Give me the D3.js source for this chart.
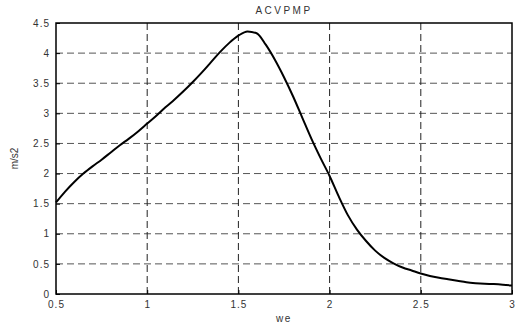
<!DOCTYPE html>
<html>
<head>
<meta charset="utf-8">
<script src="https://cdn.jsdelivr.net/npm/d3@7"></script>
<style>
  body { margin: 0; background: #fff; }
  text { font-family: Arial, "Liberation Sans", sans-serif; }
</style>
</head>
<body>
<div id="chart"></div>
<script>
// data
var weValues = [0.50, 0.55, 0.60, 0.65, 0.70, 0.75, 0.80, 0.85, 0.90, 0.95,
    1.00, 1.05, 1.10, 1.15, 1.20, 1.25, 1.30, 1.35, 1.40, 1.45,
    1.50, 1.55, 1.60, 1.65, 1.70, 1.75, 1.80, 1.85, 1.90, 1.95,
    2.00, 2.05, 2.10, 2.15, 2.20, 2.25, 2.30, 2.35, 2.40, 2.45,
    2.50, 2.55, 2.60, 2.65, 2.70, 2.75, 2.80, 2.85, 2.90, 2.95, 3.00];
var accValues = [1.52, 1.70, 1.86, 2.00, 2.12, 2.23, 2.35, 2.47, 2.58, 2.70,
    2.83, 2.96, 3.10, 3.23, 3.37, 3.52, 3.68, 3.85, 4.02, 4.17,
    4.29, 4.36, 4.33, 4.14, 3.89, 3.60, 3.28, 2.93, 2.58, 2.26,
    1.96, 1.62, 1.31, 1.07, 0.88, 0.72, 0.60, 0.51, 0.44, 0.39,
    0.34, 0.30, 0.27, 0.245, 0.22, 0.195, 0.18, 0.17, 0.165, 0.155, 0.14];
var xTicks = [0.5, 1, 1.5, 2, 2.5, 3];
var yTicks = [0, 0.5, 1, 1.5, 2, 2.5, 3, 3.5, 4, 4.5];

var margin = { top: 23, right: 3, bottom: 30, left: 56 };
var width = 515 - margin.left - margin.right;
var height = 324 - margin.top - margin.bottom;

var svg = d3.select("#chart")
    .append("svg")
    .attr("width", 515)
    .attr("height", 324)
    .append("g")
    .attr("transform", "translate(" + margin.left + "," + margin.top + ")");

var x = d3.scaleLinear().domain([0.5, 3]).range([0, width]);
var y = d3.scaleLinear().domain([0, 4.5]).range([height, 0]);

// grid lines
svg.selectAll(".hgrid")
    .data(yTicks.slice(1, -1))
    .enter()
    .append("line")
    .attr("class", "hgrid")
    .attr("x1", 0).attr("x2", width)
    .attr("y1", d => y(d)).attr("y2", d => y(d))
    .attr("stroke", "#555")
    .attr("stroke-dasharray", "7,4");

svg.selectAll(".vgrid")
    .data(xTicks.slice(1, -1))
    .enter()
    .append("line")
    .attr("class", "vgrid")
    .attr("x1", d => x(d)).attr("x2", d => x(d))
    .attr("y1", 0).attr("y2", height)
    .attr("stroke", "#222")
    .attr("stroke-dasharray", "7,4");

// axes
var xAxis = d3.axisBottom(x).tickValues(xTicks).tickSize(-4).tickPadding(7)
    .tickFormat(d => String(d));
var yAxis = d3.axisLeft(y).tickValues(yTicks).tickSize(-4).tickPadding(6)
    .tickFormat(d => String(d));

var gx = svg.append("g")
    .attr("transform", "translate(0," + height + ")")
    .call(xAxis);
var gy = svg.append("g").call(yAxis);

[gx, gy].forEach(g => {
    g.select(".domain").remove();
    g.selectAll("line").attr("stroke", "#000");
    g.selectAll("text")
        .attr("font-size", 10)
        .attr("fill", "#333")
        .style("letter-spacing", "1px");
});

// frame
svg.append("rect")
    .attr("x", 0).attr("y", 0)
    .attr("width", width).attr("height", height)
    .attr("fill", "none")
    .attr("stroke", "#000")
    .attr("stroke-width", 1.5);

// curve
var points = weValues.map((w, i) => [w, accValues[i]]);
var line = d3.line()
    .x(d => x(d[0]))
    .y(d => y(d[1]))
    .curve(d3.curveMonotoneX);

svg.append("path")
    .datum(points)
    .attr("d", line)
    .attr("fill", "none")
    .attr("stroke", "#000")
    .attr("stroke-width", 2);

// title and axis labels
svg.append("text")
    .attr("x", width / 2)
    .attr("y", -9)
    .attr("text-anchor", "middle")
    .attr("font-size", 10)
    .attr("fill", "#333")
    .style("letter-spacing", "2.5px")
    .text("ACVPMP");

svg.append("text")
    .attr("x", width / 2)
    .attr("y", height + 28)
    .attr("text-anchor", "middle")
    .attr("font-size", 10)
    .attr("fill", "#333")
    .style("letter-spacing", "1.5px")
    .text("we");

svg.append("text")
    .attr("transform", "translate(" + (-38) + "," + (height / 2) + ") rotate(-90)")
    .attr("text-anchor", "middle")
    .attr("font-size", 10)
    .attr("fill", "#333")
    .text("m/s2");
</script>
</body>
</html>
